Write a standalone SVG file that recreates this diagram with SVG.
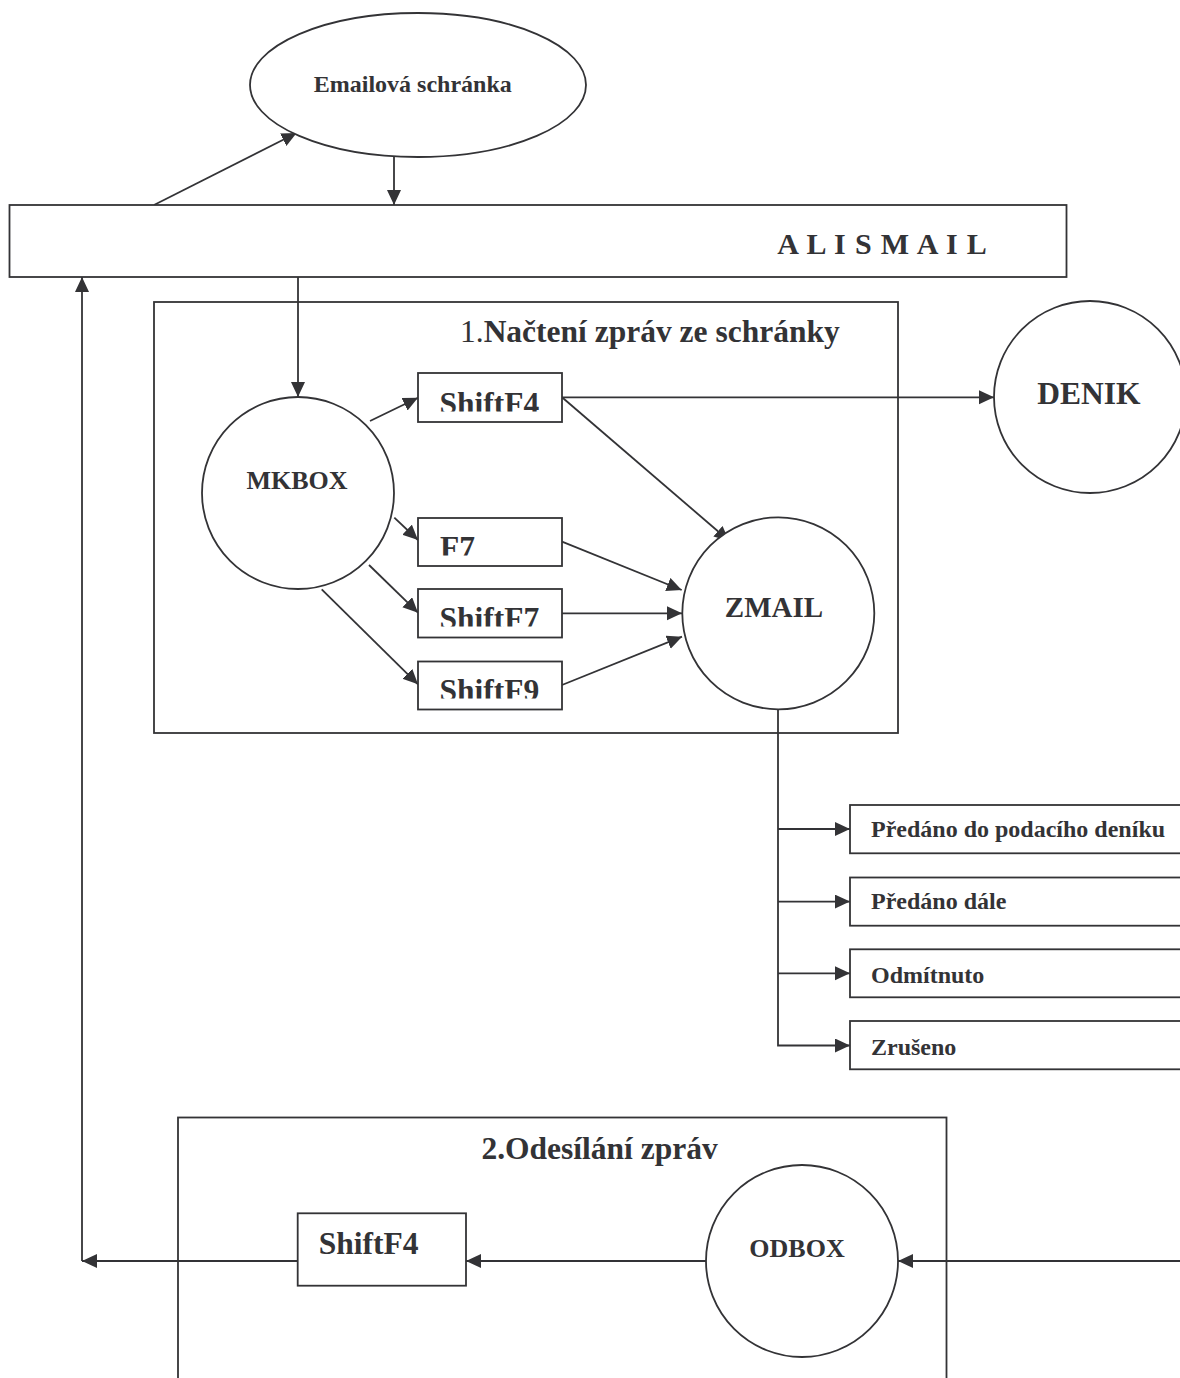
<svg xmlns="http://www.w3.org/2000/svg" width="1180" height="1378" viewBox="0 0 1180 1378">
<style>
.s{fill:none;stroke:#333336;stroke-width:1.8}
.n{fill:#fff;stroke:#333336;stroke-width:1.8}
.t{font-family:"Liberation Serif","Times New Roman",serif;font-weight:bold;fill:#333336}
.r{font-weight:normal}
</style>
<defs>
<marker id="a" markerUnits="userSpaceOnUse" markerWidth="16" markerHeight="15" refX="15" refY="7" orient="auto">
<path d="M0,0 L15,7 L0,14 z" fill="#333336"/>
</marker>
<clipPath id="c1" clipPathUnits="userSpaceOnUse"><rect x="418" y="373" width="144" height="38.5"/></clipPath>
<clipPath id="c2" clipPathUnits="userSpaceOnUse"><rect x="418" y="518" width="144" height="37.5"/></clipPath>
<clipPath id="c3" clipPathUnits="userSpaceOnUse"><rect x="418" y="589" width="144" height="37.5"/></clipPath>
<clipPath id="c4" clipPathUnits="userSpaceOnUse"><rect x="418" y="661.5" width="144" height="37"/></clipPath>
</defs>
<rect width="1180" height="1378" fill="#fff"/>

<g id="section1">
<rect class="s" x="154" y="302" width="744" height="431"/>
<text class="t" x="460" y="342" font-size="31.5"><tspan class="r">1.</tspan>Načtení zpráv ze schránky</text>
</g>
<g id="section2">
<rect class="s" x="178" y="1117.5" width="768.5" height="300"/>
<text class="t" x="481.4" y="1159.3" font-size="31.5">2.Odesílání zpráv</text>
</g>

<g id="connectors">
<line class="s" x1="154" y1="205" x2="296.6" y2="133" marker-end="url(#a)"/>
<line class="s" x1="394" y1="157" x2="394" y2="205" marker-end="url(#a)"/>
<line class="s" x1="298" y1="277" x2="298" y2="397" marker-end="url(#a)"/>
<line class="s" x1="370" y1="421" x2="418" y2="397.7" marker-end="url(#a)"/>
<line class="s" x1="394.3" y1="517.7" x2="418" y2="540" marker-end="url(#a)"/>
<line class="s" x1="369" y1="565" x2="418" y2="612.7" marker-end="url(#a)"/>
<line class="s" x1="321.7" y1="589.3" x2="418" y2="684.3" marker-end="url(#a)"/>
<line class="s" x1="562" y1="397.3" x2="729.3" y2="541" marker-end="url(#a)"/>
<line class="s" x1="562" y1="397.3" x2="994" y2="397.3" marker-end="url(#a)"/>
<line class="s" x1="562" y1="541.7" x2="681.7" y2="590" marker-end="url(#a)"/>
<line class="s" x1="562" y1="613.3" x2="682" y2="613.3" marker-end="url(#a)"/>
<line class="s" x1="562" y1="685" x2="682" y2="636.7" marker-end="url(#a)"/>
<polyline class="s" points="778,709 778,1045.5 850,1045.5" marker-end="url(#a)"/>
<line class="s" x1="778" y1="829" x2="850" y2="829" marker-end="url(#a)"/>
<line class="s" x1="778" y1="901.6" x2="850" y2="901.6" marker-end="url(#a)"/>
<line class="s" x1="778" y1="973.3" x2="850" y2="973.3" marker-end="url(#a)"/>
<line class="s" x1="1182" y1="1261" x2="898" y2="1261" marker-end="url(#a)"/>
<line class="s" x1="706" y1="1261" x2="466" y2="1261" marker-end="url(#a)"/>
<line class="s" x1="297.7" y1="1261" x2="82" y2="1261" marker-end="url(#a)"/>
<line class="s" x1="82" y1="1261" x2="82" y2="277" marker-end="url(#a)"/>
</g>

<g id="emailova">
<ellipse class="n" cx="418" cy="85" rx="168" ry="72"/>
<text class="t" x="412.8" y="91.7" font-size="24" text-anchor="middle">Emailová schránka</text>
</g>
<g id="alismail">
<rect class="n" x="9.5" y="205" width="1057" height="72"/>
<text class="t" x="777.3" y="254" font-size="30" letter-spacing="0.85">A L I S M A I L</text>
</g>
<g id="mkbox">
<circle class="n" cx="298" cy="493" r="96"/>
<text class="t" x="297" y="489" font-size="26" text-anchor="middle">MKBOX</text>
</g>
<g id="shiftf4a">
<rect class="n" x="418" y="373" width="144" height="49"/>
<text class="t" x="439.5" y="413.5" font-size="31.5" clip-path="url(#c1)">ShiftF4</text>
</g>
<g id="f7">
<rect class="n" x="418" y="518" width="144" height="48"/>
<text class="t" x="440" y="557.5" font-size="31.5" clip-path="url(#c2)">F7</text>
</g>
<g id="shiftf7">
<rect class="n" x="418" y="589" width="144" height="48.5"/>
<text class="t" x="439.5" y="628.5" font-size="31.5" clip-path="url(#c3)">ShiftF7</text>
</g>
<g id="shiftf9">
<rect class="n" x="418" y="661.5" width="144" height="48"/>
<text class="t" x="439.5" y="700.5" font-size="31.5" clip-path="url(#c4)">ShiftF9</text>
</g>
<g id="zmail">
<circle class="n" cx="778.3" cy="613.3" r="96"/>
<text class="t" x="774" y="617.3" font-size="29" text-anchor="middle">ZMAIL</text>
</g>
<g id="denik">
<circle class="n" cx="1090" cy="397" r="96"/>
<text class="t" x="1089" y="404" font-size="31.5" text-anchor="middle">DENIK</text>
</g>
<g id="st1">
<rect class="n" x="850" y="805" width="400" height="48.3"/>
<text class="t" x="871" y="837.3" font-size="24">Předáno do podacího deníku</text>
</g>
<g id="st2">
<rect class="n" x="850" y="877.5" width="400" height="48.2"/>
<text class="t" x="871" y="909.3" font-size="24">Předáno dále</text>
</g>
<g id="st3">
<rect class="n" x="850" y="949.3" width="400" height="48"/>
<text class="t" x="871" y="983.3" font-size="24">Odmítnuto</text>
</g>
<g id="st4">
<rect class="n" x="850" y="1021" width="400" height="48.3"/>
<text class="t" x="871" y="1055" font-size="24">Zrušeno</text>
</g>
<g id="odbox">
<circle class="n" cx="802" cy="1261" r="96"/>
<text class="t" x="797" y="1257.3" font-size="26" text-anchor="middle">ODBOX</text>
</g>
<g id="shiftf4b">
<rect class="n" x="297.7" y="1213.3" width="168.3" height="72.4"/>
<text class="t" x="318.8" y="1254.3" font-size="31.5">ShiftF4</text>
</g>
</svg>
